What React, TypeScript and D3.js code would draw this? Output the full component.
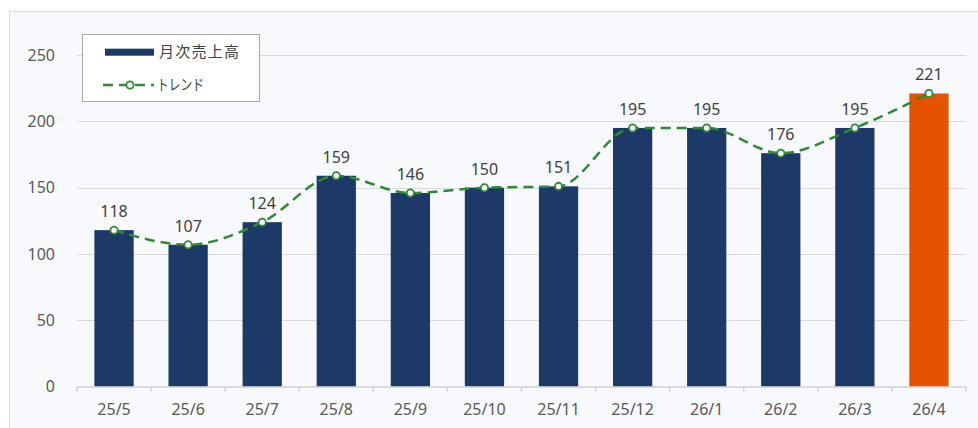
import React from "react";
import * as d3 from "d3";

const categories = ["25/5", "25/6", "25/7", "25/8", "25/9", "25/10", "25/11", "25/12", "26/1", "26/2", "26/3", "26/4"];
const sales = [118, 107, 124, 159, 146, 150, 151, 195, 195, 176, 195, 221];
const yTicks = [0, 50, 100, 150, 200, 250];
const seriesNames = ["月次売上高", "トレンド"];

const W = 978;
const H = 428;

const NAVY = "#1d3968";
const ORANGE = "#e65300";
const GREEN = "#2f8a34";
const NUM_FONT = "'Noto Sans', 'DejaVu Sans', sans-serif";
const JP_FONT = "'Noto Sans CJK JP', 'Noto Sans', sans-serif";

export default function App() {
  const x = d3.scaleBand<string>().domain(categories).range([77, 966]).paddingInner(0.47).paddingOuter(0.235);
  const band = d3.scaleBand<string>().domain(categories).range([77, 966]);
  const y = d3.scaleLinear().domain([0, 250]).range([386.7, 55]);

  const pts: [number, number][] = sales.map((v, i) => [band(categories[i])! + band.bandwidth() / 2, y(v)]);
  const line = d3.line().curve(d3.curveMonotoneX)(pts) || "";

  const boundaries = categories.map((c) => band(c)!).concat([966]);

  return (
    <div style={{ position: "absolute", left: 0, top: 0 }}>
      <svg width={W} height={H} style={{ display: "block" }}>
        <rect x={0} y={0} width={W} height={H} fill="#ffffff" />
        <rect x={9.5} y={11.5} width={W + 10} height={H + 10} fill="#f8f9fd" stroke="#d9d9d9" strokeWidth={1} />
        {yTicks.map((t) => (
          <g key={t}>
            {t > 0 && <line x1={77} x2={966} y1={Math.round(y(t)) + 0.5} y2={Math.round(y(t)) + 0.5} stroke="#d9d9d9" strokeWidth={1} />}
            <text x={55} y={y(t)} dy="0.36em" textAnchor="end" fontFamily={NUM_FONT} fontSize={16} fill="#595959">
              {t}
            </text>
          </g>
        ))}
        {sales.map((v, i) => (
          <rect
            key={categories[i]}
            x={x(categories[i])}
            y={y(v)}
            width={x.bandwidth()}
            height={y(0) - y(v)}
            fill={i === sales.length - 1 ? ORANGE : NAVY}
          />
        ))}
        <line x1={77} x2={966} y1={387} y2={387} stroke="#d0d0d0" strokeWidth={1.5} />
        {boundaries.map((bx, i) => (
          <line key={i} x1={bx} x2={bx} y1={387} y2={391.5} stroke="#d0d0d0" strokeWidth={1.5} />
        ))}
        {categories.map((c) => (
          <text key={c} x={band(c)! + band.bandwidth() / 2} y={415} textAnchor="middle" fontFamily={NUM_FONT} fontSize={16} fill="#595959">
            {c}
          </text>
        ))}
        <path d={line} fill="none" stroke={GREEN} strokeWidth={2.5} strokeDasharray="10 6" />
        {pts.map((p, i) => (
          <circle key={i} cx={p[0]} cy={p[1]} r={3.6} fill="#ffffff" stroke={GREEN} strokeWidth={1.8} />
        ))}
        {sales.map((v, i) => (
          <text key={i} x={pts[i][0]} y={y(v) - 13} textAnchor="middle" fontFamily={NUM_FONT} fontSize={16} fill="#404040">
            {v}
          </text>
        ))}
        <rect x={82.5} y={34.5} width={177} height={67} fill="#ffffff" stroke="#a6a6a6" strokeWidth={1} />
        <rect x={105} y={48.7} width={49} height={7} fill={NAVY} />
        <text x={159} y={52} dy="0.36em" fontFamily={JP_FONT} fontSize={15} fill="#404040" textLength={80} lengthAdjust="spacing">
          {seriesNames[0]}
        </text>
        <line x1={103} x2={154} y1={85} y2={85} stroke={GREEN} strokeWidth={2.5} strokeDasharray="10 6" />
        <circle cx={130} cy={85} r={3.6} fill="#ffffff" stroke={GREEN} strokeWidth={1.8} />
        <text x={157} y={85} dy="0.36em" fontFamily={JP_FONT} fontSize={15} fill="#404040" textLength={47} lengthAdjust="spacingAndGlyphs">
          {seriesNames[1]}
        </text>
      </svg>
    </div>
  );
}
